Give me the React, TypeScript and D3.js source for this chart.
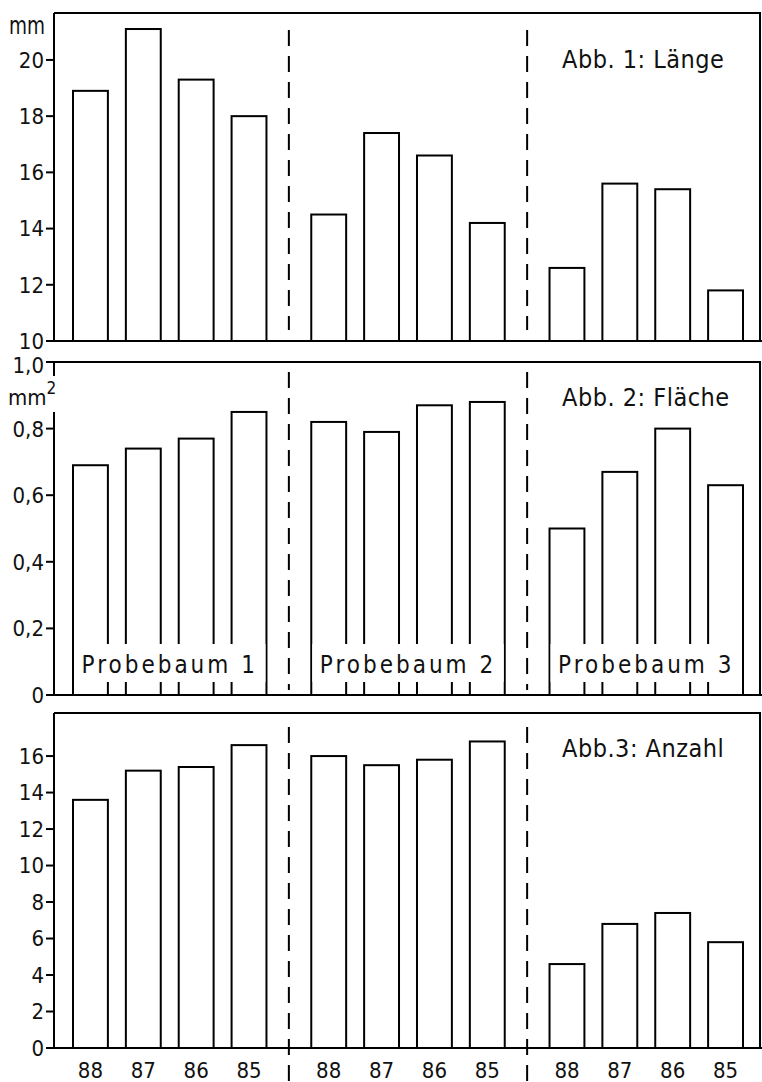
import { useRef, useEffect } from "react";
import * as d3 from "d3";

const groups = ["Probebaum 1", "Probebaum 2", "Probebaum 3"];
const years = ["88", "87", "86", "85"];

// Abb. 1: Länge (mm), per Probebaum, Jahrgang 88..85
const laenge = [
  [18.9, 21.1, 19.3, 18.0],
  [14.5, 17.4, 16.6, 14.2],
  [12.6, 15.6, 15.4, 11.8],
];
// Abb. 2: Fläche (mm²)
const flaeche = [
  [0.69, 0.74, 0.77, 0.85],
  [0.82, 0.79, 0.87, 0.88],
  [0.5, 0.67, 0.8, 0.63],
];
// Abb. 3: Anzahl
const anzahl = [
  [13.6, 15.2, 15.4, 16.6],
  [16.0, 15.5, 15.8, 16.8],
  [4.6, 6.8, 7.4, 5.8],
];

const laengeTicks = [10, 12, 14, 16, 18, 20];
const flaecheTicks = [0, 0.2, 0.4, 0.6, 0.8, 1.0];
const anzahlTicks = [0, 2, 4, 6, 8, 10, 12, 14, 16];

const titles = ["Abb. 1: Länge", "Abb. 2: Fläche", "Abb.3: Anzahl"];

const FONT = "'DejaVu Sans Condensed', 'DejaVu Sans', sans-serif";

export default function App() {
  const ref = useRef<HTMLDivElement>(null);

  useEffect(() => {
    const W = 762;
    const H = 1082;
    const axisX = 54;
    const right = 760;

    const root = d3.select(ref.current);
    root.selectAll("*").remove();

    const svg = root
      .append("svg")
      .attr("width", W)
      .attr("height", H)
      .style("position", "absolute")
      .style("left", 0)
      .style("top", 0)
      .style("background", "#fff");

    // x scales: groups, then years inside a group
    const x0 = d3.scaleBand().domain(groups).range([73, 743]).paddingInner(0.188).paddingOuter(0);
    const x1 = d3.scaleBand().domain(years).range([0, x0.bandwidth()]).paddingInner(0.34).paddingOuter(0);

    const panels = [
      { data: laenge, ticks: laengeTicks, domain: [10, 21.67], top: 13, bottom: 341, fmt: (t: number) => String(t), title: titles[0], titleY: 68, dashTop: 30, dashBottom: 330 },
      { data: flaeche, ticks: flaecheTicks, domain: [0, 1], top: 362, bottom: 695, fmt: (t: number) => (t === 0 ? "0" : d3.format(".1f")(t).replace(".", ",")), title: titles[1], titleY: 406, dashTop: 372, dashBottom: 690 },
      { data: anzahl, ticks: anzahlTicks, domain: [0, 18.36], top: 713, bottom: 1048, fmt: (t: number) => String(t), title: titles[2], titleY: 757, dashTop: 727, dashBottom: 1082 },
    ];

    // separators between the groups
    const seps = [0, 1].map((i) => {
      const a = x0(groups[i])! + x0.bandwidth();
      const b = x0(groups[i + 1])!;
      return (a + b) / 2;
    });

    panels.forEach((p, pi) => {
      const y = d3.scaleLinear().domain(p.domain).range([p.bottom, p.top]);
      const g = svg.append("g");

      // frame
      g.append("line").attr("x1", axisX).attr("x2", right + 1).attr("y1", p.top).attr("y2", p.top)
        .attr("stroke", "#000").attr("stroke-width", 2);
      g.append("line").attr("x1", right).attr("x2", right).attr("y1", p.top).attr("y2", p.bottom)
        .attr("stroke", "#000").attr("stroke-width", 2);
      g.append("line").attr("x1", axisX - 8).attr("x2", W).attr("y1", p.bottom).attr("y2", p.bottom)
        .attr("stroke", "#000").attr("stroke-width", 2);

      // left axis (panel 2 has a gap for the unit label)
      const segs = pi === 1 ? [[p.top, 376], [412, p.bottom]] : [[p.top, p.bottom]];
      segs.forEach(([a, b]) => {
        g.append("line").attr("x1", axisX).attr("x2", axisX).attr("y1", a).attr("y2", b)
          .attr("stroke", "#000").attr("stroke-width", 2);
      });

      // ticks
      g.selectAll(".tick")
        .data(p.ticks)
        .enter()
        .append("line")
        .attr("x1", axisX - 8)
        .attr("x2", axisX)
        .attr("y1", (d) => y(d))
        .attr("y2", (d) => y(d))
        .attr("stroke", "#000")
        .attr("stroke-width", 2);

      g.selectAll(".ticklabel")
        .data(p.ticks)
        .enter()
        .append("text")
        .text((d) => p.fmt(d))
        .attr("x", axisX - 10)
        .attr("y", (d) => y(d) + (pi === 1 && d === 1 ? 3 : 0))
        .attr("dy", "0.36em")
        .attr("text-anchor", "end")
        .attr("font-family", FONT)
        .attr("font-size", "22px")
        .attr("fill", "#111");

      // dashed separators
      seps.forEach((sx) => {
        g.append("line").attr("x1", sx).attr("x2", sx).attr("y1", p.dashTop).attr("y2", p.dashBottom)
          .attr("stroke", "#000").attr("stroke-width", 2).attr("stroke-dasharray", "16 10");
      });

      // bars
      groups.forEach((grp, gi) => {
        g.selectAll(".bar" + gi)
          .data(p.data[gi])
          .enter()
          .append("rect")
          .attr("x", (d, i) => x0(grp)! + x1(years[i])!)
          .attr("y", (d) => y(d))
          .attr("width", x1.bandwidth())
          .attr("height", (d) => p.bottom - y(d))
          .attr("fill", "#fff")
          .attr("stroke", "#000")
          .attr("stroke-width", 2);
      });

      // title
      g.append("text")
        .text(p.title)
        .attr("x", 562)
        .attr("y", p.titleY)
        .attr("font-family", FONT)
        .attr("font-size", "25px")
        .attr("letter-spacing", "0.5px")
        .attr("fill", "#111");
    });

    // unit labels
    svg.append("text").text("mm").attr("x", 9).attr("y", 34)
      .attr("textLength", 36).attr("lengthAdjust", "spacingAndGlyphs")
      .attr("font-family", FONT).attr("font-size", "25px").attr("fill", "#111");
    const mm2 = svg.append("text").attr("x", 8).attr("y", 405)
      .attr("font-family", FONT).attr("font-size", "22px").attr("fill", "#111");
    mm2.append("tspan").text("mm");
    mm2.append("tspan").text("2").attr("dy", -11).attr("font-size", "17px");

    // Probebaum labels in panel 2
    groups.forEach((grp) => {
      const gx = x0(grp)!;
      svg.append("rect")
        .attr("x", gx + 1)
        .attr("y", 644)
        .attr("width", x0.bandwidth() - 2)
        .attr("height", 38)
        .attr("fill", "#fff");
      svg.append("text")
        .text(grp)
        .attr("x", gx + x0.bandwidth() / 2)
        .attr("y", 673)
        .attr("text-anchor", "middle")
        .attr("font-family", FONT)
        .attr("font-size", "24px")
        .attr("letter-spacing", "3px")
        .attr("fill", "#111");
    });

    // year labels under panel 3
    groups.forEach((grp) => {
      svg.selectAll(".yl" + grp.replace(" ", ""))
        .data(years)
        .enter()
        .append("text")
        .text((d) => d)
        .attr("x", (d) => x0(grp)! + x1(d)! + x1.bandwidth() / 2)
        .attr("y", 1078)
        .attr("text-anchor", "middle")
        .attr("font-family", FONT)
        .attr("font-size", "22px")
        .attr("fill", "#111");
    });
  }, []);

  return <div ref={ref}></div>;
}
